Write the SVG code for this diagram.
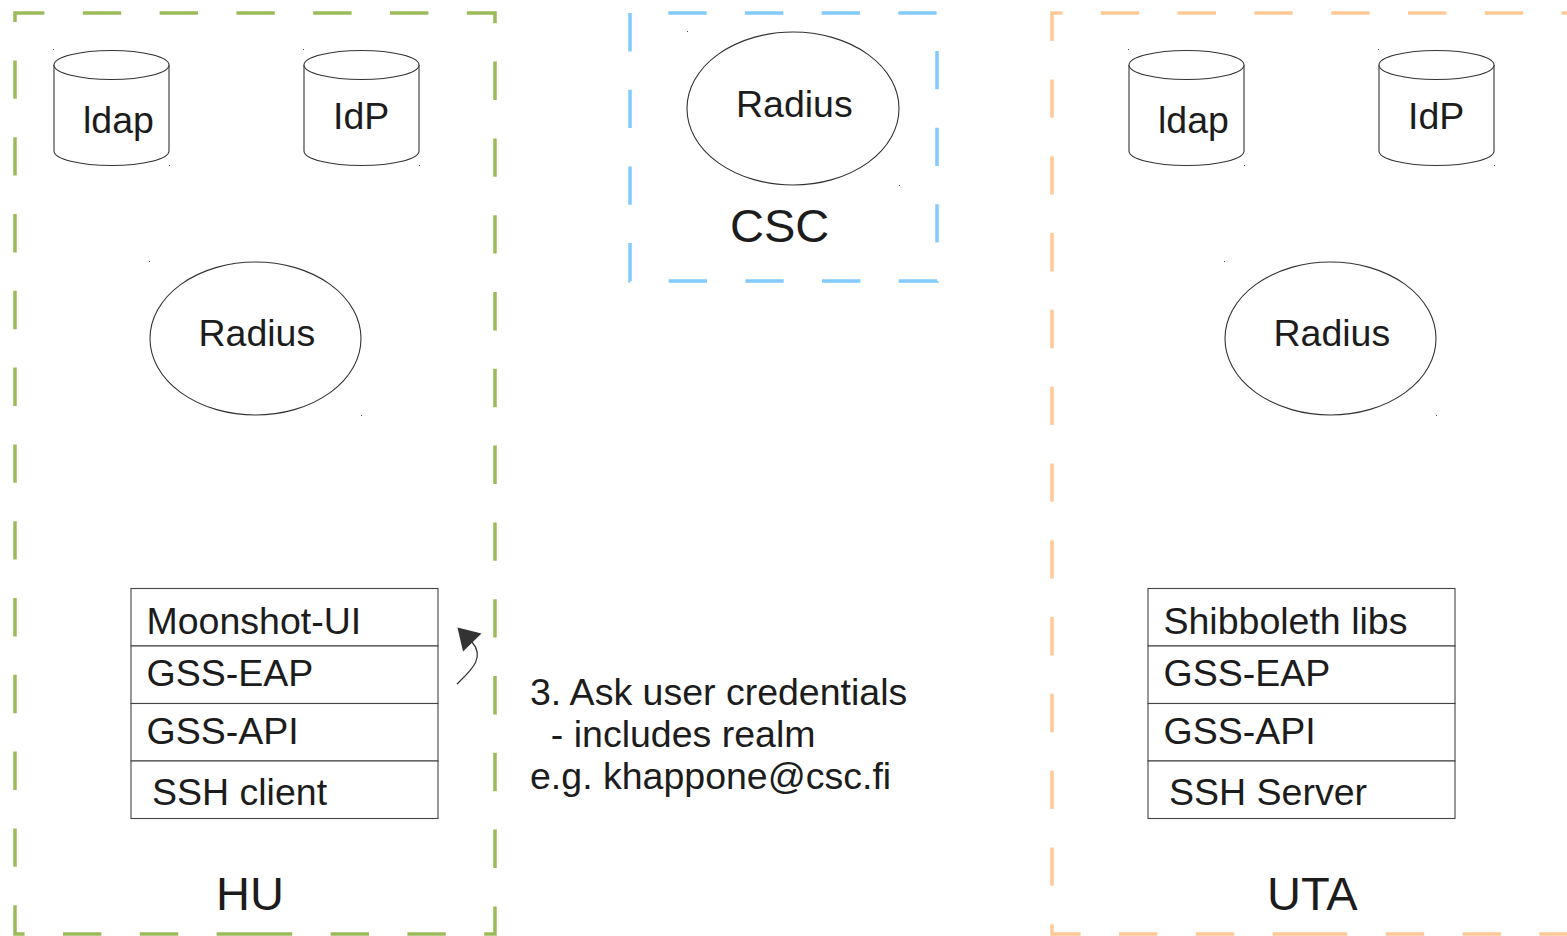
<svg xmlns="http://www.w3.org/2000/svg" width="1567" height="936" viewBox="0 0 1567 936">
<style>
.t{font-family:"Liberation Sans",Arial,sans-serif;font-size:37.5px;fill:#1c1c1c}
.big{font-family:"Liberation Sans",Arial,sans-serif;font-size:47px;fill:#1c1c1c}
.shape{fill:#fff;stroke:#333;stroke-width:1.1}
.row{fill:#fff;stroke:#444;stroke-width:1.1}
.dot{fill:#555}
.zone{fill:none;stroke-width:3.5;stroke-dasharray:38.4 38.4}
</style>
<rect width="1567" height="936" fill="#fff"/>
<g id="zone-hu">
<path class="zone" stroke="#9bbb59" d="M255,934 H15 V13 H495 V934 Z"/>
<text class="big" x="216" y="910">HU</text>
</g>
<g id="zone-csc">
<path class="zone" stroke="#83caff" style="stroke-dasharray:38.33 38.33;stroke-dashoffset:38.33" d="M630,13 H937 V281 H630 Z"/>
<text class="big" x="730" y="242">CSC</text>
</g>
<g id="zone-uta">
<path class="zone" stroke="#ffc996" d="M1311,934 H1052 V13 H1570 V934 Z"/>
<text class="big" x="1267" y="910">UTA</text>
</g>
<g id="hu-ldap">
<path class="shape" d="M54,65 A57.5,14.5 0 0 1 169,65 V151 A57.5,14.5 0 0 1 54,151 Z"/>
<path class="shape" fill="none" d="M54,65 A57.5,14.5 0 0 0 169,65"/>
<rect class="dot" x="53" y="49" width="1" height="1"/><rect class="dot" x="169" y="165" width="1" height="1"/>
<text class="t" x="83" y="133">ldap</text>
</g>
<g id="hu-idp">
<path class="shape" d="M304,65 A57.5,14.5 0 0 1 419,65 V151 A57.5,14.5 0 0 1 304,151 Z"/>
<path class="shape" fill="none" d="M304,65 A57.5,14.5 0 0 0 419,65"/>
<rect class="dot" x="303" y="49" width="1" height="1"/><rect class="dot" x="419" y="165" width="1" height="1"/>
<text class="t" x="333" y="129">IdP</text>
</g>
<g id="hu-radius">
<ellipse class="shape" cx="255.5" cy="338.5" rx="105.5" ry="76.5"/>
<rect class="dot" x="149" y="261" width="1" height="1"/><rect class="dot" x="361" y="415" width="1" height="1"/>
<text class="t" x="198.5" y="346">Radius</text>
</g>
<g id="hu-stack">
<rect class="row" x="131" y="588.5" width="307" height="57.5"/>
<rect class="row" x="131" y="646" width="307" height="57.5"/>
<rect class="row" x="131" y="703.5" width="307" height="57.5"/>
<rect class="row" x="131" y="761" width="307" height="57.5"/>
<text class="t" x="146.5" y="634">Moonshot-UI</text>
<text class="t" x="146.5" y="686">GSS-EAP</text>
<text class="t" x="146.5" y="744">GSS-API</text>
<text class="t" x="152" y="805">SSH client</text>
</g>
<g id="csc-radius">
<ellipse class="shape" cx="793" cy="108.5" rx="106" ry="76.5"/>
<rect class="dot" x="687" y="31" width="1" height="1"/><rect class="dot" x="899" y="185" width="1" height="1"/>
<text class="t" x="736" y="117">Radius</text>
</g>
<g id="uta-ldap">
<path class="shape" d="M1129,65 A57.5,14.5 0 0 1 1244,65 V151 A57.5,14.5 0 0 1 1129,151 Z"/>
<path class="shape" fill="none" d="M1129,65 A57.5,14.5 0 0 0 1244,65"/>
<rect class="dot" x="1128" y="49" width="1" height="1"/><rect class="dot" x="1244" y="165" width="1" height="1"/>
<text class="t" x="1158" y="133">ldap</text>
</g>
<g id="uta-idp">
<path class="shape" d="M1379,65 A57.5,14.5 0 0 1 1494,65 V151 A57.5,14.5 0 0 1 1379,151 Z"/>
<path class="shape" fill="none" d="M1379,65 A57.5,14.5 0 0 0 1494,65"/>
<rect class="dot" x="1378" y="49" width="1" height="1"/><rect class="dot" x="1494" y="165" width="1" height="1"/>
<text class="t" x="1408" y="129">IdP</text>
</g>
<g id="uta-radius">
<ellipse class="shape" cx="1330.5" cy="338.5" rx="105.5" ry="76.5"/>
<rect class="dot" x="1224" y="261" width="1" height="1"/><rect class="dot" x="1436" y="415" width="1" height="1"/>
<text class="t" x="1273.5" y="346">Radius</text>
</g>
<g id="uta-stack">
<rect class="row" x="1148" y="588.5" width="307" height="57.5"/>
<rect class="row" x="1148" y="646" width="307" height="57.5"/>
<rect class="row" x="1148" y="703.5" width="307" height="57.5"/>
<rect class="row" x="1148" y="761" width="307" height="57.5"/>
<text class="t" x="1163.5" y="634">Shibboleth libs</text>
<text class="t" x="1163.5" y="686">GSS-EAP</text>
<text class="t" x="1163.5" y="744">GSS-API</text>
<text class="t" x="1169" y="805">SSH Server</text>
</g>
<g id="note">
<text class="t" x="530" y="705">3. Ask user credentials</text>
<text class="t" x="530" y="747" xml:space="preserve">  - includes realm</text>
<text class="t" x="530" y="789">e.g. khappone@csc.fi</text>
</g>
<g id="connectors">
<path d="M457,684 C470,671 486,658 472,642" fill="none" stroke="#333" stroke-width="1.2"/>
<polygon points="457.5,627.5 481.5,633.5 463,651.5" fill="#333"/>
</g>
</svg>
